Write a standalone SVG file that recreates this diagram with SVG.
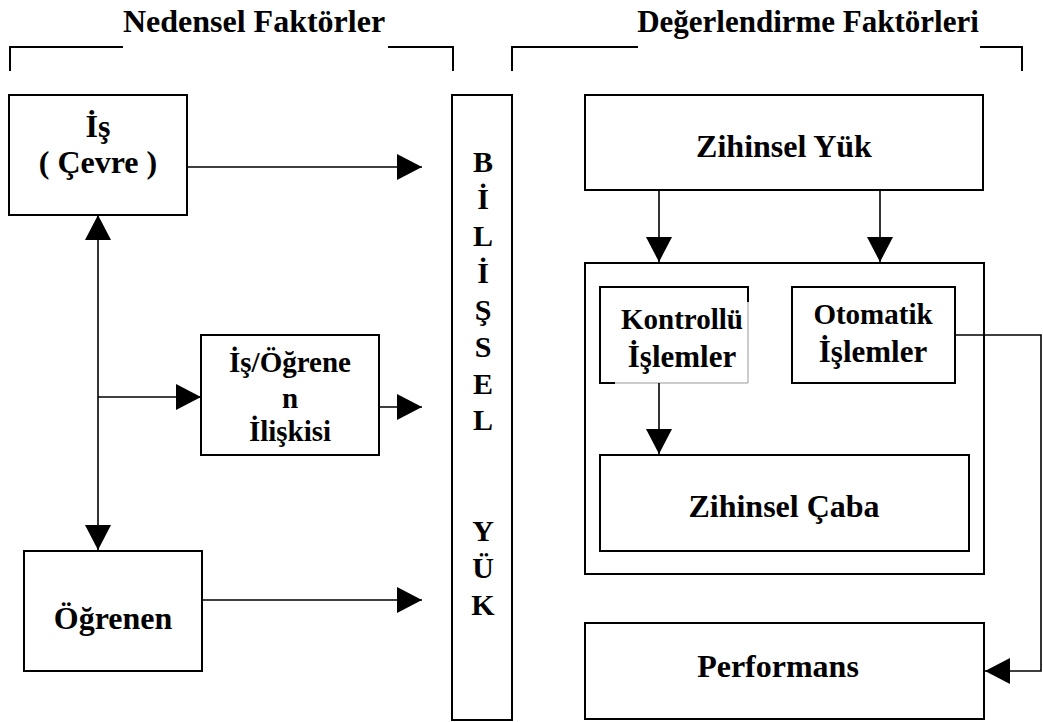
<svg xmlns="http://www.w3.org/2000/svg" width="1043" height="722" viewBox="0 0 1043 722">
<defs>
<style>
.box{fill:#fff;stroke:#000;stroke-width:2}
.ln{fill:none;stroke:#000;stroke-width:1.6}
.br{fill:none;stroke:#000;stroke-width:2}
text{font-family:"Liberation Serif","Times New Roman",serif;font-weight:bold;fill:#000;text-anchor:middle}
.t32{font-size:32px}
.t31{font-size:31px}
.t30{font-size:30px}
.t29{font-size:29px}
</style>
<marker id="ah" viewBox="0 0 25 26" refX="25" refY="13" markerWidth="25" markerHeight="26" markerUnits="userSpaceOnUse" orient="auto">
<path d="M0,0 L25,13 L0,26 Z" fill="#000"/>
</marker>
</defs>
<rect width="1043" height="722" fill="#fff"/>

<g id="headers">
<path class="br" d="M10,71 V47 H123 M388,47 H453 V71"/>
<text class="t32" x="254" y="32">Nedensel Faktörler</text>
<path class="br" d="M512,71 V47 H638 M980,47 H1022 V71"/>
<text class="t31" x="808" y="32">Değerlendirme Faktörleri</text>
</g>

<g id="node-is">
<rect class="box" x="9" y="95" width="178" height="120"/>
<text class="t32" x="98" y="137">İş</text>
<text class="t32" x="98" y="173">( Çevre )</text>
</g>

<g id="node-isogrenen">
<rect class="box" x="201" y="335" width="178" height="120"/>
<text class="t29" x="290" y="372">İş/Öğrene</text>
<text class="t29" x="290" y="408">n</text>
<text class="t29" x="290" y="441">İlişkisi</text>
</g>

<g id="node-ogrenen">
<rect class="box" x="24" y="551" width="178" height="120"/>
<text class="t32" x="113" y="629">Öğrenen</text>
</g>

<g id="node-bilissel">
<rect class="box" x="452" y="95" width="60" height="625"/>
<text class="t30" x="483" y="172">B</text>
<text class="t30" x="483" y="209">İ</text>
<text class="t30" x="483" y="246">L</text>
<text class="t30" x="483" y="283">İ</text>
<text class="t30" x="483" y="320">Ş</text>
<text class="t30" x="483" y="357">S</text>
<text class="t30" x="483" y="394">E</text>
<text class="t30" x="483" y="430">L</text>
<text class="t30" x="483" y="541">Y</text>
<text class="t30" x="483" y="578">Ü</text>
<text class="t30" x="483" y="615">K</text>
</g>

<g id="node-zihinselyuk">
<rect class="box" x="585" y="95" width="398" height="95"/>
<text class="t32" x="784" y="157">Zihinsel Yük</text>
</g>

<g id="node-container">
<rect class="box" x="585" y="263" width="399" height="311"/>
</g>

<g id="node-kontrollu">
<path fill="#fff" stroke="none" d="M600,287 H748 V383 H600 Z"/>
<path class="br" d="M615,383 H600 V287 H748 V302"/>
<path fill="none" stroke="#999" stroke-width="1" d="M615,383 H748 V302"/>
<text class="t29" x="682" y="329">Kontrollü</text>
<text class="t31" x="682" y="367">İşlemler</text>
</g>

<g id="node-otomatik">
<rect class="box" x="792" y="287" width="163" height="96"/>
<text class="t29" x="873" y="324">Otomatik</text>
<text class="t31" x="873" y="362">İşlemler</text>
</g>

<g id="node-zihinselcaba">
<rect class="box" x="600" y="455" width="369" height="96"/>
<text class="t32" x="784" y="517">Zihinsel Çaba</text>
</g>

<g id="node-performans">
<rect class="box" x="585" y="623" width="399" height="96"/>
<text class="t32" x="778" y="677">Performans</text>
</g>

<g id="connectors">
<line class="ln" x1="187" y1="167" x2="422" y2="167" marker-end="url(#ah)"/>
<line class="ln" x1="98" y1="397" x2="98" y2="215" marker-end="url(#ah)"/>
<line class="ln" x1="98" y1="397" x2="98" y2="550" marker-end="url(#ah)"/>
<line class="ln" x1="98" y1="397" x2="201" y2="397" marker-end="url(#ah)"/>
<line class="ln" x1="379" y1="407" x2="422" y2="407" marker-end="url(#ah)"/>
<line class="ln" x1="202" y1="600" x2="422" y2="600" marker-end="url(#ah)"/>
<line class="ln" x1="659" y1="190" x2="659" y2="262" marker-end="url(#ah)"/>
<line class="ln" x1="880" y1="190" x2="880" y2="262" marker-end="url(#ah)"/>
<line class="ln" x1="659" y1="383" x2="659" y2="454" marker-end="url(#ah)"/>
<polyline class="ln" points="955,335 1041,335 1041,671 985,671" marker-end="url(#ah)"/>
</g>
</svg>
